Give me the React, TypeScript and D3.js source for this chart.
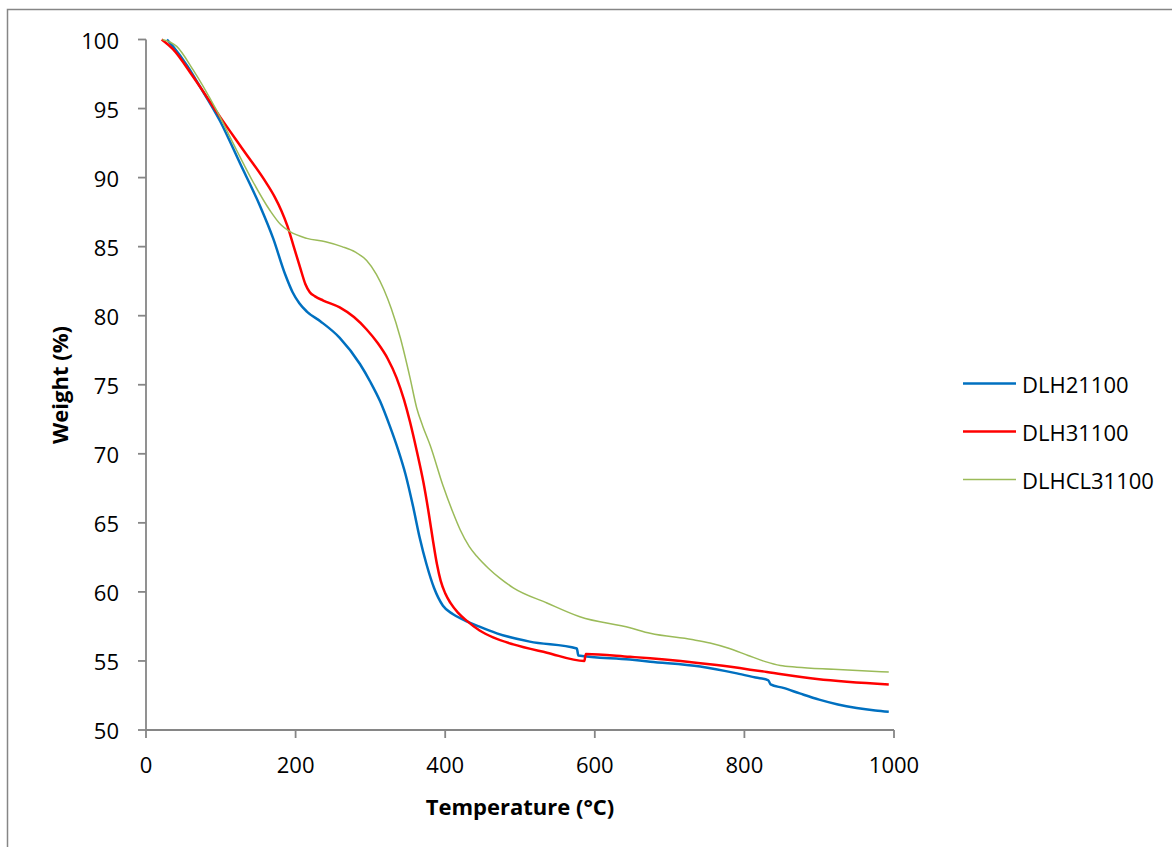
import React from "react";
import * as d3 from "d3";

const seriesNames = ["DLH21100", "DLH31100", "DLHCL31100"];
const seriesColors = ["#0070C0", "#FF0000", "#9BBB59"];
const seriesWidths = [2.5, 2.5, 1.5];

const dlh21100: [number, number][] = [
  [28, 100], [36, 99.5], [55, 98.1], [72, 96.6], [99, 94.1], [126, 91.0], [152, 88.0],
  [170, 85.6], [186, 83.0], [196, 81.7], [205, 80.9], [215, 80.3], [233, 79.6],
  [259, 78.4], [286, 76.5], [300, 75.2], [313, 73.8], [326, 72.0], [337, 70.3],
  [347, 68.5], [357, 66.2], [366, 63.9], [375, 62.0], [385, 60.3], [397, 59.0],
  [410, 58.4], [424, 58.0], [445, 57.5], [469, 57.0], [513, 56.4], [576, 55.9],
  [578, 55.4], [647, 55.1], [674, 54.95], [741, 54.6], [790, 54.1], [815, 53.8],
  [832, 53.6], [835, 53.3], [852, 53.05], [874, 52.65], [900, 52.2], [925, 51.85],
  [950, 51.6], [975, 51.42], [993, 51.33],
];

const dlh31100: [number, number][] = [
  [21, 100], [36, 99.3], [63, 97.3], [99, 94.4], [130, 92.0], [161, 89.6], [172, 88.6],
  [181, 87.6], [189, 86.5], [197, 85.1], [206, 83.5], [213, 82.3], [219, 81.7],
  [226, 81.4], [237, 81.1], [259, 80.6], [278, 79.9], [295, 79.0], [310, 78.0],
  [323, 76.9], [335, 75.5], [345, 73.9], [353, 72.3], [362, 70.2], [371, 67.9],
  [378, 65.7], [384, 63.6], [389, 62.0], [394, 60.8], [400, 59.9], [407, 59.2],
  [417, 58.5], [429, 57.9], [446, 57.2], [464, 56.7], [491, 56.2], [536, 55.6],
  [586, 55.0], [588, 55.5], [647, 55.3], [674, 55.2], [763, 54.7], [830, 54.2],
  [897, 53.7], [993, 53.3],
];

const dlhcl31100: [number, number][] = [
  [22, 100], [41, 99.5], [63, 97.8], [94, 94.9], [121, 92.0], [143, 89.7], [166, 87.6],
  [180, 86.6], [192, 86.1], [215, 85.6], [240, 85.35], [262, 85.0], [280, 84.6],
  [295, 84.0], [308, 83.0], [318, 81.9], [328, 80.5], [340, 78.4], [353, 75.5],
  [362, 73.3], [370, 72.0], [380, 70.6], [397, 67.7], [410, 65.8], [420, 64.5],
  [432, 63.3], [442, 62.6], [458, 61.7], [473, 61.0], [491, 60.3], [536, 59.2],
  [580, 58.2], [647, 57.4], [674, 57.0], [730, 56.55], [754, 56.3], [780, 55.9],
  [805, 55.4], [828, 54.95], [848, 54.67], [870, 54.55], [919, 54.4], [993, 54.2],
];

const allSeries = [dlh21100, dlh31100, dlhcl31100];
const xTicks = [0, 200, 400, 600, 800, 1000];
const yTicks = [50, 55, 60, 65, 70, 75, 80, 85, 90, 95, 100];

const FONT = "'Open Sans', sans-serif";

export default function App() {
  const x = d3.scaleLinear().domain([0, 1000]).range([146, 894]);
  const y = d3.scaleLinear().domain([50, 100]).range([730, 39.5]);
  const line = d3
    .line<[number, number]>()
    .x((d) => x(d[0]))
    .y((d) => y(d[1]))
    .curve(d3.curveMonotoneX);
  const axisColor = "#868686";

  return (
    <svg
      width={1172}
      height={847}
      style={{ position: "absolute", left: 0, top: 0, background: "#fff" }}
    >
      <rect x={0} y={0} width={1172} height={847} fill="#fff" />
      <rect x={7.5} y={9.5} width={1300} height={1000} fill="none" stroke={axisColor} strokeWidth={1.5} />
      {/* axes */}
      <line x1={x(0)} x2={x(0)} y1={y(100)} y2={y(50)} stroke={axisColor} strokeWidth={1.8} />
      <line x1={x(0)} x2={x(1000)} y1={y(50)} y2={y(50)} stroke={axisColor} strokeWidth={1.8} />
      {yTicks.map((t) => (
        <g key={"y" + t}>
          <line x1={x(0) - 8} x2={x(0)} y1={y(t)} y2={y(t)} stroke={axisColor} strokeWidth={1.8} />
          <text
            x={119}
            y={y(t)}
            textAnchor="end"
            dominantBaseline="central"
            fontFamily={FONT}
            fontSize={22}
            fill="#000"
          >
            {t}
          </text>
        </g>
      ))}
      {xTicks.map((t) => (
        <g key={"x" + t}>
          <line x1={x(t)} x2={x(t)} y1={y(50)} y2={y(50) + 8} stroke={axisColor} strokeWidth={1.8} />
          <text
            x={x(t)}
            y={764}
            textAnchor="middle"
            dominantBaseline="central"
            fontFamily={FONT}
            fontSize={22}
            fill="#000"
          >
            {t}
          </text>
        </g>
      ))}
      <text
        x={520}
        y={806}
        textAnchor="middle"
        dominantBaseline="central"
        fontFamily={FONT}
        fontWeight="bold"
        fontSize={22}
      >
        Temperature (°C)
      </text>
      <text
        transform="translate(59,385) rotate(-90)"
        textAnchor="middle"
        dominantBaseline="central"
        fontFamily={FONT}
        fontWeight="bold"
        fontSize={22}
      >
        Weight (%)
      </text>
      {/* series */}
      {allSeries.map((s, i) => (
        <path
          key={seriesNames[i]}
          d={line(s) || ""}
          fill="none"
          stroke={seriesColors[i]}
          strokeWidth={seriesWidths[i]}
          strokeLinejoin="round"
        />
      ))}
      {/* legend */}
      {seriesNames.map((n, i) => (
        <g key={"leg" + n}>
          <line
            x1={963}
            x2={1016}
            y1={383.5 + i * 48}
            y2={383.5 + i * 48}
            stroke={seriesColors[i]}
            strokeWidth={seriesWidths[i]}
          />
          <text
            x={1022}
            y={383.5 + i * 48}
            dominantBaseline="central"
            fontFamily={FONT}
            fontSize={22}
            fill="#000"
          >
            {n}
          </text>
        </g>
      ))}
    </svg>
  );
}
